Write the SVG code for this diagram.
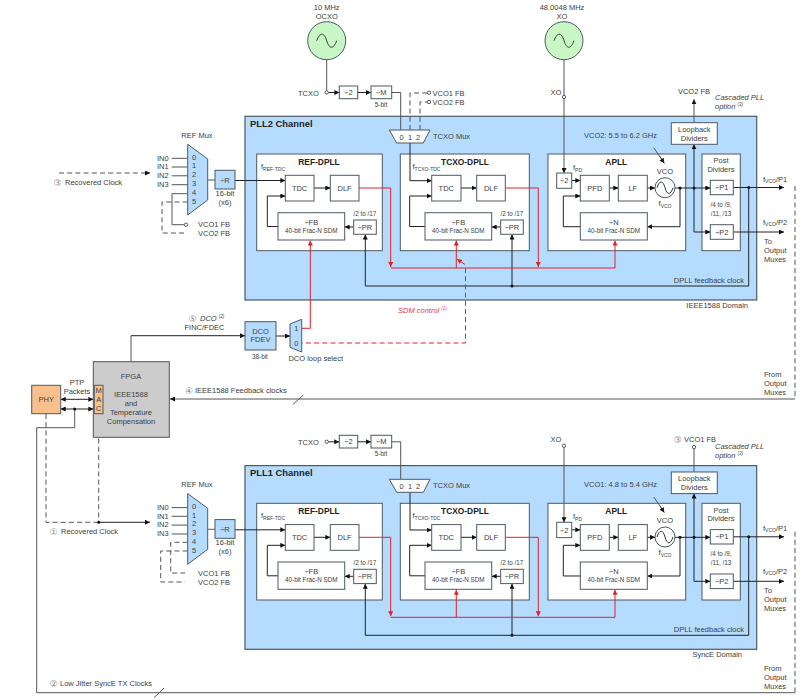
<svg xmlns="http://www.w3.org/2000/svg" width="800" height="700" viewBox="0 0 800 700">
<style>
text{font-family:"Liberation Sans","DejaVu Sans",sans-serif;font-size:7.5px;fill:#404040}
.m{text-anchor:middle}
.e{text-anchor:end}
.s{font-size:6.3px}
.i{font-style:italic}
.h{font-weight:bold;font-size:8.4px;text-anchor:middle;fill:#222}
.ch{font-weight:bold;font-size:9.4px;fill:#222}
.sub{font-size:5px}
.sup{font-size:4.5px}
.n{fill:#8a8a8a;font-size:9px;font-family:"DejaVu Sans",sans-serif}
.red{fill:#e03a44}
.panel{fill:#b5dcff;stroke:#4d5963;stroke-width:1.2}
.block{fill:#fff;stroke:#4d5963;stroke-width:1}
.blue{fill:#b5dcff;stroke:#4d5963;stroke-width:1}
.orange{fill:#f8c08c;stroke:#4d5963;stroke-width:1}
.gray{fill:#cccccc;stroke:#555;stroke-width:1}
.osc{fill:#c8f7c5;stroke:#4d5963;stroke-width:1}
.wave{fill:none;stroke:#333;stroke-width:1}
.w{fill:none;stroke:#222;stroke-width:1}
.g{fill:none;stroke:#555;stroke-width:1}
.a{marker-end:url(#arrow)}
.d{stroke-dasharray:5 3.2}
.r{fill:none;stroke:#e0222c;stroke-width:1}
.ra{marker-end:url(#arrow-red)}
.dot{fill:#111}
.open{fill:#fff;stroke:#333;stroke-width:.8}
</style>
<defs>
<marker id="arrow" markerUnits="userSpaceOnUse" markerWidth="5" markerHeight="5" refX="5" refY="2.5" orient="auto-start-reverse"><path d="M0,0L5,2.5L0,5z" fill="#111"/></marker>
<marker id="arrow-red" markerUnits="userSpaceOnUse" markerWidth="5" markerHeight="5" refX="5" refY="2.5" orient="auto"><path d="M0,0L5,2.5L0,5z" fill="#e0222c"/></marker>
</defs>

<!-- channel backgrounds and DPLL/APLL containers -->
<g id="pll2-channel">
<rect class="panel" x="245" y="116.3" width="511.7" height="183.7"/>
<text class="ch" x="250" y="126.5">PLL2 Channel</text>
<text class="e" x="748" y="307.5">IEEE1588 Domain</text>
<text class="e" x="744" y="282.7">DPLL feedback clock</text>
<text x="584" y="138.2">VCO2: 5.5 to 6.2 GHz</text>
</g>
<g id="pll2-ref-dpll"><rect class="block" x="256.7" y="154" width="125.6" height="96.7"/><text class="h" x="319" y="164.5">REF-DPLL</text><text x="261" y="169">f<tspan class="sub" dy="1.5">REF-TDC</tspan></text><text class="s m" x="365" y="215.5">/2 to /17</text></g>
<g id="pll2-tcxo-dpll"><rect class="block" x="400.3" y="154" width="129" height="96.7"/><text class="h" x="465" y="164.5">TCXO-DPLL</text><text x="412.5" y="169">f<tspan class="sub" dy="1.5">TCXO-TDC</tspan></text><text class="s m" x="512" y="215.5">/2 to /17</text></g>
<g id="pll2-apll"><rect class="block" x="548" y="154" width="137.7" height="96.7"/><text class="h" x="616.3" y="164.5">APLL</text><text x="573" y="170">f<tspan class="sub" dy="1.5">PD</tspan></text><text class="m" x="665" y="173.7">VCO</text><text class="m" x="665" y="206">f<tspan class="sub" dy="1.5">VCO</tspan></text></g>
<g id="pll2-post-dividers"><rect class="block" x="702" y="154" width="38.3" height="96.7"/><text class="m" x="721" y="163.3">Post</text><text class="m" x="721" y="172">Dividers</text><text class="s m" x="721" y="206.5">/4 to /9,</text><text class="s m" x="721" y="215.5">/11, /13</text></g>

<g transform="translate(0 349.3)">
<g id="pll1-channel">
<rect class="panel" x="245" y="116.3" width="511.7" height="183.7"/>
<text class="ch" x="250" y="126.5">PLL1 Channel</text>
<text class="e" x="742" y="308.2">SyncE Domain</text>
<text class="e" x="744" y="282.7">DPLL feedback clock</text>
<text x="584" y="138.2">VCO1: 4.8 to 5.4 GHz</text>
</g>
<g id="pll1-ref-dpll"><rect class="block" x="256.7" y="154" width="125.6" height="96.7"/><text class="h" x="319" y="164.5">REF-DPLL</text><text x="261" y="169">f<tspan class="sub" dy="1.5">REF-TDC</tspan></text><text class="s m" x="365" y="215.5">/2 to /17</text></g>
<g id="pll1-tcxo-dpll"><rect class="block" x="400.3" y="154" width="129" height="96.7"/><text class="h" x="465" y="164.5">TCXO-DPLL</text><text x="412.5" y="169">f<tspan class="sub" dy="1.5">TCXO-TDC</tspan></text><text class="s m" x="512" y="215.5">/2 to /17</text></g>
<g id="pll1-apll"><rect class="block" x="548" y="154" width="137.7" height="96.7"/><text class="h" x="616.3" y="164.5">APLL</text><text x="573" y="170">f<tspan class="sub" dy="1.5">PD</tspan></text><text class="m" x="665" y="173.7">VCO</text><text class="m" x="665" y="206">f<tspan class="sub" dy="1.5">VCO</tspan></text></g>
<g id="pll1-post-dividers"><rect class="block" x="702" y="154" width="38.3" height="96.7"/><text class="m" x="721" y="163.3">Post</text><text class="m" x="721" y="172">Dividers</text><text class="s m" x="721" y="206.5">/4 to /9,</text><text class="s m" x="721" y="215.5">/11, /13</text></g>
</g>

<!-- all wiring: black signal paths, grey clock paths, red SDM control -->
<g id="connectors">
<g id="connectors-pll2">
<path class="g" d="M326.7,59.7V90.8"/>
<path class="w a" d="M328.4,92.5H339.3"/>
<path class="w a" d="M357.7,92.5H371"/>
<path class="g" d="M391.7,92.5H400.7V130"/>
<path class="g d" d="M410,130V93H427.3"/>
<path class="g d" d="M420,130V102H427.3"/>
<path class="w a" d="M410,143V180.7H431.7"/>
<path class="g" d="M171.7,158.3H187.7M171.7,167H187.7M171.7,175.8H187.7M171.7,184.7H187.7"/>
<path class="g" d="M187.7,193.7H172V224.7H184.3"/>
<path class="g d" d="M187.7,202H162V233H185"/>
<path class="g" d="M207.7,180H215"/>
<path class="w a" d="M235,180.5H285.3"/>
<path class="w a" d="M314,188H330.3"/>
<path class="w a" d="M461,188H476.7"/>
<path class="w a" d="M278,226.5H267.3V196H285.3"/>
<path class="w a" d="M425,226.5H409.7V196H431.7"/>
<path class="w a" d="M353.7,227H344.7"/>
<path class="w a" d="M500.7,227H491.7"/>
<path class="w a" d="M748.7,187.5V286H365.3V234.5"/>
<path class="w a" d="M512,286V234.5"/>
<path class="g" d="M564,59.7V95.3"/>
<path class="g a" d="M564,98.7V173"/>
<path class="w a" d="M571.7,180.5H580.3"/>
<path class="w a" d="M609.3,188H618.3"/>
<path class="w a" d="M647.3,188H655"/>
<path class="w a" d="M675,188H710.3"/>
<path class="w a" d="M680,188V226.7H647.3"/>
<path class="w a" d="M580.3,226.7H563.3V196H580.3"/>
<path class="w a" d="M694,188V144.3"/>
<path class="w a" d="M694,188V232H710.3"/>
<path class="w a" d="M733.3,187.5H784"/>
<path class="w a" d="M733.3,232H784"/>
<path class="g a" d="M694,122.7V99.3"/>
<path class="g" d="M653.7,147.7L659.5,156"/><path class="w a" d="M659.5,156L664.3,163.3"/>
<path class="r ra" d="M359,188H390.7V267"/>
<path class="r ra" d="M505.3,188H538.3V267"/>
<path class="r ra" d="M390.7,268H615V240.5"/>
<path class="r ra" d="M456.3,268V240.5"/>
<path class="r ra" d="M465,264.5L457,259"/>
<path class="r d" d="M465.5,268V343H302"/>
<path class="r ra" d="M301.7,328.3H310.3V240.5"/>
<circle class="dot" cx="512" cy="286" r="1.5"/>
<circle class="dot" cx="748.7" cy="187.5" r="1.5"/>
<circle class="dot" cx="680" cy="188" r="1.5"/>
<circle class="dot" cx="694" cy="188" r="1.5"/>
<circle class="open" cx="326.7" cy="92.5" r="1.7"/>
<circle class="open" cx="429" cy="92.7" r="1.7"/>
<circle class="open" cx="429" cy="102" r="1.7"/>
<circle class="open" cx="186" cy="224.7" r="1.7"/>
<circle class="open" cx="564" cy="97" r="1.7"/>
</g>
<g id="connectors-pll1" transform="translate(0 349.3)">
<path class="w a" d="M328.4,92.5H339.3"/>
<path class="w a" d="M357.7,92.5H371"/>
<path class="g" d="M391.7,92.5H400.7V130"/>
<path class="w a" d="M410,143V180.7H431.7"/>
<path class="g" d="M171.7,158.3H187.7M171.7,167H187.7M171.7,175.8H187.7M171.7,184.7H187.7"/>
<path class="g d" d="M187.7,193H170.7V223.7H185"/>
<path class="g d" d="M187.7,201.7H160.7V232.7H185"/>
<path class="g" d="M207.7,180H215"/>
<path class="w a" d="M235,180.5H285.3"/>
<path class="w a" d="M314,188H330.3"/>
<path class="w a" d="M461,188H476.7"/>
<path class="w a" d="M278,226.5H267.3V196H285.3"/>
<path class="w a" d="M425,226.5H409.7V196H431.7"/>
<path class="w a" d="M353.7,227H344.7"/>
<path class="w a" d="M500.7,227H491.7"/>
<path class="w a" d="M748.7,187.5V286H365.3V234.5"/>
<path class="w a" d="M512,286V234.5"/>
<path class="g a" d="M564,98V173"/>
<path class="w a" d="M571.7,180.5H580.3"/>
<path class="w a" d="M609.3,188H618.3"/>
<path class="w a" d="M647.3,188H655"/>
<path class="w a" d="M675,188H710.3"/>
<path class="w a" d="M680,188V226.7H647.3"/>
<path class="w a" d="M580.3,226.7H563.3V196H580.3"/>
<path class="w a" d="M694,188V144.3"/>
<path class="w a" d="M694,188V232H710.3"/>
<path class="w a" d="M733.3,187.5H784"/>
<path class="w a" d="M733.3,232H784"/>
<path class="g" d="M694,122.7V99.5"/>
<path class="g" d="M653.7,147.7L659.5,156"/><path class="w a" d="M659.5,156L664.3,163.3"/>
<path class="r ra" d="M359,188H390.7V267"/>
<path class="r ra" d="M505.3,188H538.3V267"/>
<path class="r ra" d="M390.7,268H615V240.5"/>
<path class="r ra" d="M456.3,268V240.5"/>
<circle class="dot" cx="512" cy="286" r="1.5"/>
<circle class="dot" cx="748.7" cy="187.5" r="1.5"/>
<circle class="dot" cx="680" cy="188" r="1.5"/>
<circle class="dot" cx="694" cy="188" r="1.5"/>
<circle class="open" cx="326.7" cy="92.5" r="1.7"/>
<circle class="open" cx="564" cy="96.5" r="1.7"/>
<circle class="open" cx="694" cy="97.8" r="1.7"/>
</g>
<g id="connectors-system">
<path class="g d" d="M59,173H148"/><path class="w a" d="M145,173H150"/>
<path class="g" d="M131,361.7V335.7"/><path class="w a" d="M131,335.7H245"/>
<path class="w a" d="M276,336H290"/>
<path class="g a" d="M795,399H170"/>
<path class="g d" d="M795,186V399"/>
<path class="g" d="M293,404.3L303,395.3"/>
<path class="w a" marker-start="url(#arrow)" d="M60.7,399.3H93.3"/>
<path class="w a" marker-start="url(#arrow)" d="M60.7,409H93.3"/>
<path class="g" d="M74.7,409V427.7H36.7V692.7H795"/>
<path class="g d" d="M795,531.7V692.7"/>
<path class="g" d="M154,697.7L164,688"/>
<path class="g d" d="M46,414V522.3H98.7"/>
<path class="g d" d="M98.7,414V522.3"/>
<path class="w a" d="M98.7,522.3H150"/>
<circle class="dot" cx="74.7" cy="409" r="1.5"/>
<circle class="dot" cx="98.7" cy="522.3" r="1.5"/>
</g>
</g>

<!-- oscillators and reference path, PLL2 side -->
<g id="ocxo"><circle class="osc" cx="326.7" cy="40.7" r="19"/><path class="wave" d="M316.7,40.7C320,32 324,32 326.7,40.7S333.5,49.4 336.7,40.7"/><text class="m" x="326.7" y="10">10 MHz</text><text class="m" x="326.7" y="18.6">OCXO</text></g>
<g id="xo"><circle class="osc" cx="564" cy="40.7" r="19"/><path class="wave" d="M554,40.7C557.3,32 561.3,32 564,40.7S570.8,49.4 574,40.7"/><text class="m" x="562" y="10">48.0048 MHz</text><text class="m" x="562" y="18.6">XO</text></g>
<g id="pll2-labels">
<text x="298" y="95.5">TCXO</text><text x="550.5" y="94.5">XO</text>
<text x="432.5" y="95.5">VCO1 FB</text><text x="432.5" y="104.7">VCO2 FB</text>
<text class="m" x="694" y="93.5">VCO2 FB</text>
<text class="i" x="715" y="99.5">Cascaded PLL</text><text class="i" x="715" y="108.5">option <tspan class="sup" dy="-3">(3)</tspan></text>
<text class="m" x="197" y="137.5">REF Mux</text>
<text x="157" y="160.7">IN0</text><text x="157" y="169.4">IN1</text><text x="157" y="178.2">IN2</text><text x="157" y="187">IN3</text>
<text x="198" y="226.7">VCO1 FB</text><text x="198" y="235.7">VCO2 FB</text>
<text class="m" x="225" y="196">16-bit</text><text class="m" x="225" y="205">(x6)</text>
<text x="763" y="181.5">f<tspan class="sub" dy="1.5">VCO</tspan><tspan dy="-1.5">/P1</tspan></text>
<text x="763" y="224.5">f<tspan class="sub" dy="1.5">VCO</tspan><tspan dy="-1.5">/P2</tspan></text>
<text x="764" y="243.5">To</text><text x="764" y="252.5">Output</text><text x="764" y="261.5">Muxes</text>
<text class="m" x="381" y="106.5" style="font-size:6.5px">5-bit</text>
</g>
<g id="pll2-ref-mux"><path class="blue" d="M187.7,144.3L207.7,159V200L187.7,215z"/><text class="m" x="194" y="159.5">0</text><text class="m" x="194" y="168.3">1</text><text class="m" x="194" y="177">2</text><text class="m" x="194" y="186">3</text><text class="m" x="194" y="195">4</text><text class="m" x="194" y="203.7">5</text></g>
<g id="pll2-div-r"><rect class="blue" x="215" y="170.3" width="20" height="18.7"/><text class="m" x="225" y="182.5">÷R</text></g>
<g id="pll2-x2-tcxo"><rect class="block" x="339.3" y="86" width="18.4" height="12.7"/><text class="m" x="348.5" y="95">÷2</text></g>
<g id="pll2-div-m"><rect class="block" x="371" y="86" width="20.7" height="12.7"/><text class="m" x="381.3" y="95">÷M</text></g>
<g id="pll2-tcxo-mux"><path class="block" d="M389.3,130H430L423.3,143H396.7z"/><text class="m" x="401.7" y="139.5">0</text><text class="m" x="410" y="139.5">1</text><text class="m" x="418" y="139.5">2</text><text x="433" y="139">TCXO Mux</text></g>

<g id="pll2-ref-tdc"><rect class="block" x="285.3" y="175.3" width="28.7" height="25.7"/><text class="m" x="299.6" y="190.7">TDC</text></g>
<g id="pll2-ref-dlf"><rect class="block" x="330.3" y="175.3" width="28.7" height="25.7"/><text class="m" x="344.6" y="190.7">DLF</text></g>
<g id="pll2-ref-fb"><rect class="block" x="278" y="212.7" width="66.7" height="27.3"/><text class="m" x="311.3" y="224.5">÷FB</text><text class="s m" x="311.3" y="232.5">40-bit Frac-N SDM</text></g>
<g id="pll2-ref-pr"><rect class="block" x="353.7" y="220" width="22.6" height="14.3"/><text class="m" x="365" y="229.7">÷PR</text></g>
<g id="pll2-tcxo-tdc"><rect class="block" x="431.7" y="175.3" width="29.3" height="25.7"/><text class="m" x="446.3" y="190.7">TDC</text></g>
<g id="pll2-tcxo-dlf"><rect class="block" x="476.7" y="175.3" width="28.6" height="25.7"/><text class="m" x="491" y="190.7">DLF</text></g>
<g id="pll2-tcxo-fb"><rect class="block" x="425" y="212.7" width="66.7" height="27.3"/><text class="m" x="458.3" y="224.5">÷FB</text><text class="s m" x="458.3" y="232.5">40-bit Frac-N SDM</text></g>
<g id="pll2-tcxo-pr"><rect class="block" x="500.7" y="220" width="22.6" height="14.3"/><text class="m" x="512" y="229.7">÷PR</text></g>
<g id="pll2-apll-x2"><rect class="block" x="556.7" y="173" width="15" height="15.3"/><text class="m" x="564.2" y="183.3">÷2</text></g>
<g id="pll2-pfd"><rect class="block" x="580.3" y="175.3" width="29" height="25.7"/><text class="m" x="594.8" y="190.7">PFD</text></g>
<g id="pll2-lf"><rect class="block" x="618.3" y="175.3" width="29" height="25.7"/><text class="m" x="632.8" y="190.7">LF</text></g>
<g id="pll2-vco"><circle class="block" cx="665" cy="187.7" r="10"/><path class="wave" d="M657,187.7C659.5,180 663,180 665,187.7S670.5,195.4 673,187.7"/></g>
<g id="pll2-div-n"><rect class="block" x="580.3" y="212.7" width="67" height="27.3"/><text class="m" x="613.8" y="224.5">÷N</text><text class="s m" x="613.8" y="232.5">40-bit Frac-N SDM</text></g>
<g id="pll2-p1"><rect class="block" x="710.3" y="180.3" width="23" height="14.4"/><text class="m" x="721.8" y="190.2">÷P1</text></g>
<g id="pll2-p2"><rect class="block" x="710.3" y="224.7" width="23" height="14.6"/><text class="m" x="721.8" y="234.7">÷P2</text></g>
<g id="pll2-loopback"><rect class="block" x="671.3" y="122.7" width="46" height="21.6"/><text class="m" x="694.3" y="131.5">Loopback</text><text class="m" x="694.3" y="140.5">Dividers</text></g>

<!-- second channel reuses the first channel's layout, shifted down -->
<g transform="translate(0 349.3)">
<g id="pll1-labels">
<text x="298" y="95.5">TCXO</text><text x="550.5" y="92.5">XO</text>
<text class="n" x="673.5" y="93.5">③</text><text x="684" y="93">VCO1 FB</text>
<text class="i" x="715" y="99.5">Cascaded PLL</text><text class="i" x="715" y="108.5">option <tspan class="sup" dy="-3">(3)</tspan></text>
<text class="m" x="197" y="137.5">REF Mux</text>
<text x="157" y="160.7">IN0</text><text x="157" y="169.4">IN1</text><text x="157" y="178.2">IN2</text><text x="157" y="187">IN3</text>
<text x="198" y="226.7">VCO1 FB</text><text x="198" y="235.7">VCO2 FB</text>
<text class="m" x="225" y="196">16-bit</text><text class="m" x="225" y="205">(x6)</text>
<text x="763" y="181.5">f<tspan class="sub" dy="1.5">VCO</tspan><tspan dy="-1.5">/P1</tspan></text>
<text x="763" y="224.5">f<tspan class="sub" dy="1.5">VCO</tspan><tspan dy="-1.5">/P2</tspan></text>
<text x="764" y="243.5">To</text><text x="764" y="252.5">Output</text><text x="764" y="261.5">Muxes</text>
<text class="m" x="381" y="106.5" style="font-size:6.5px">5-bit</text>
</g>
<g id="pll1-ref-mux"><path class="blue" d="M187.7,144.3L207.7,159V200L187.7,215z"/><text class="m" x="194" y="159.5">0</text><text class="m" x="194" y="168.3">1</text><text class="m" x="194" y="177">2</text><text class="m" x="194" y="186">3</text><text class="m" x="194" y="195">4</text><text class="m" x="194" y="203.7">5</text></g>
<g id="pll1-div-r"><rect class="blue" x="215" y="170.3" width="20" height="18.7"/><text class="m" x="225" y="182.5">÷R</text></g>
<g id="pll1-x2-tcxo"><rect class="block" x="339.3" y="86" width="18.4" height="12.7"/><text class="m" x="348.5" y="95">÷2</text></g>
<g id="pll1-div-m"><rect class="block" x="371" y="86" width="20.7" height="12.7"/><text class="m" x="381.3" y="95">÷M</text></g>
<g id="pll1-tcxo-mux"><path class="block" d="M389.3,130H430L423.3,143H396.7z"/><text class="m" x="401.7" y="139.5">0</text><text class="m" x="410" y="139.5">1</text><text class="m" x="418" y="139.5">2</text><text x="433" y="139">TCXO Mux</text></g>
<g id="pll1-ref-tdc"><rect class="block" x="285.3" y="175.3" width="28.7" height="25.7"/><text class="m" x="299.6" y="190.7">TDC</text></g>
<g id="pll1-ref-dlf"><rect class="block" x="330.3" y="175.3" width="28.7" height="25.7"/><text class="m" x="344.6" y="190.7">DLF</text></g>
<g id="pll1-ref-fb"><rect class="block" x="278" y="212.7" width="66.7" height="27.3"/><text class="m" x="311.3" y="224.5">÷FB</text><text class="s m" x="311.3" y="232.5">40-bit Frac-N SDM</text></g>
<g id="pll1-ref-pr"><rect class="block" x="353.7" y="220" width="22.6" height="14.3"/><text class="m" x="365" y="229.7">÷PR</text></g>
<g id="pll1-tcxo-tdc"><rect class="block" x="431.7" y="175.3" width="29.3" height="25.7"/><text class="m" x="446.3" y="190.7">TDC</text></g>
<g id="pll1-tcxo-dlf"><rect class="block" x="476.7" y="175.3" width="28.6" height="25.7"/><text class="m" x="491" y="190.7">DLF</text></g>
<g id="pll1-tcxo-fb"><rect class="block" x="425" y="212.7" width="66.7" height="27.3"/><text class="m" x="458.3" y="224.5">÷FB</text><text class="s m" x="458.3" y="232.5">40-bit Frac-N SDM</text></g>
<g id="pll1-tcxo-pr"><rect class="block" x="500.7" y="220" width="22.6" height="14.3"/><text class="m" x="512" y="229.7">÷PR</text></g>
<g id="pll1-apll-x2"><rect class="block" x="556.7" y="173" width="15" height="15.3"/><text class="m" x="564.2" y="183.3">÷2</text></g>
<g id="pll1-pfd"><rect class="block" x="580.3" y="175.3" width="29" height="25.7"/><text class="m" x="594.8" y="190.7">PFD</text></g>
<g id="pll1-lf"><rect class="block" x="618.3" y="175.3" width="29" height="25.7"/><text class="m" x="632.8" y="190.7">LF</text></g>
<g id="pll1-vco"><circle class="block" cx="665" cy="187.7" r="10"/><path class="wave" d="M657,187.7C659.5,180 663,180 665,187.7S670.5,195.4 673,187.7"/></g>
<g id="pll1-div-n"><rect class="block" x="580.3" y="212.7" width="67" height="27.3"/><text class="m" x="613.8" y="224.5">÷N</text><text class="s m" x="613.8" y="232.5">40-bit Frac-N SDM</text></g>
<g id="pll1-p1"><rect class="block" x="710.3" y="180.3" width="23" height="14.4"/><text class="m" x="721.8" y="190.2">÷P1</text></g>
<g id="pll1-p2"><rect class="block" x="710.3" y="224.7" width="23" height="14.6"/><text class="m" x="721.8" y="234.7">÷P2</text></g>
<g id="pll1-loopback"><rect class="block" x="671.3" y="122.7" width="46" height="21.6"/><text class="m" x="694.3" y="131.5">Loopback</text><text class="m" x="694.3" y="140.5">Dividers</text></g>
</g>

<!-- system level: FPGA, PHY and DCO path -->
<g id="dco-fdev"><rect class="blue" x="245" y="321.7" width="31" height="28.3"/><text class="m" x="260.5" y="333.5">DCO</text><text class="m" x="260.5" y="342">FDEV</text><text class="m s" x="260" y="358.5">38-bit</text></g>
<g id="dco-mux"><path class="blue" d="M290,324L301.7,319.3V352L290,347.3z"/><text class="m" x="296.3" y="331">1</text><text class="m" x="296.3" y="346">0</text><text class="m" x="315.7" y="361">DCO loop select</text></g>
<g id="fpga"><rect class="gray" x="93.3" y="361.7" width="76" height="75.6"/><text class="m" x="131" y="379">FPGA</text><text class="m" x="131" y="397">IEEE1588</text><text class="m" x="131" y="406">and</text><text class="m" x="131" y="414.7">Temperature</text><text class="m" x="131" y="423.5">Compensation</text></g>
<g id="mac"><rect class="orange" x="94.3" y="385.3" width="8.7" height="28.4"/><text class="m" x="98.7" y="392.5">M</text><text class="m" x="98.7" y="402">A</text><text class="m" x="98.7" y="411">C</text></g>
<g id="phy"><rect class="orange" x="31.7" y="385.3" width="29" height="28.4"/><text class="m" x="46.2" y="402">PHY</text></g>

<g id="notes">
<text class="n" x="53.5" y="185.5">③</text><text x="65" y="184.5">Recovered Clock</text>
<text class="n" x="188.5" y="321.5">⑤</text><text class="i" x="200" y="320.5">DCO <tspan class="sup" dy="-3">(2)</tspan></text>
<text class="m" x="204.5" y="330">FINC/FDEC</text>
<text class="m" x="77" y="384.5">PTP</text><text class="m" x="77" y="394">Packets</text>
<text class="n" x="185" y="393.5">④</text><text x="195" y="392.5">IEEE1588 Feedback clocks</text>
<text class="n" x="49.5" y="534.5">①</text><text x="61" y="533.5">Recovered Clock</text>
<text class="n" x="49.5" y="686.5">②</text><text x="60" y="685.5">Low Jitter SyncE TX Clocks</text>
<text class="i red" x="398" y="313">SDM control <tspan class="sup" dy="-3">(1)</tspan></text>
<text x="764" y="377">From</text><text x="764" y="386">Output</text><text x="764" y="395">Muxes</text>
<text x="764" y="670.5">From</text><text x="764" y="679.5">Output</text><text x="764" y="688.5">Muxes</text>
</g>
</svg>
